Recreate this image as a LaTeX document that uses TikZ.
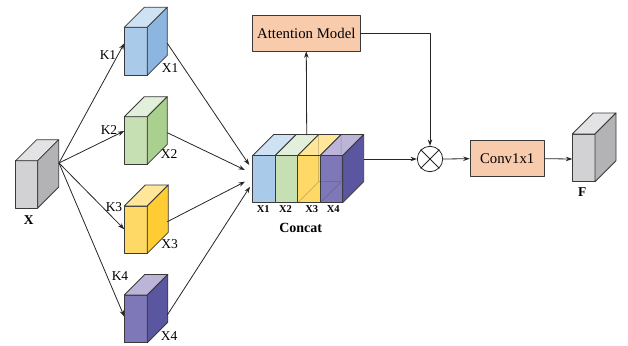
\documentclass[tikz,border=0pt]{standalone}
\usepackage{fontspec}
\setmainfont{Liberation Serif}
\usetikzlibrary{arrows.meta}
\definecolor{edge}{HTML}{3A3A3A}
\definecolor{gF}{HTML}{D2D2D4}\definecolor{gS}{HTML}{B3B3B5}\definecolor{gT}{HTML}{E3E3E5}
\definecolor{bF}{HTML}{A9CAE8}\definecolor{bS}{HTML}{8CB6DF}\definecolor{bT}{HTML}{CFE2F3}
\definecolor{nF}{HTML}{C6E0B4}\definecolor{nS}{HTML}{A9D08E}\definecolor{nT}{HTML}{E2EFDA}
\definecolor{yF}{HTML}{FFD966}\definecolor{yS}{HTML}{FFCC33}\definecolor{yT}{HTML}{FFE699}
\definecolor{pF}{HTML}{7F78B8}\definecolor{pS}{HTML}{5A56A0}\definecolor{pT}{HTML}{BDB5D8}
\definecolor{peach}{HTML}{F8CBAD}
% #1 x, #2 y (front top-left), #3 w, #4 h, #5 depth, #6 front, #7 side, #8 top
\newcommand\mycube[8]{%
  \filldraw[fill=#6,draw=edge,cubeline] (#1,#2) rectangle ({#1+#3},{#2+#4});
  \filldraw[fill=#8,draw=edge,cubeline] (#1,#2) -- ({#1+#5},{#2-#5}) -- ({#1+#3+#5},{#2-#5}) -- ({#1+#3},#2) -- cycle;
  \filldraw[fill=#7,draw=edge,cubeline] ({#1+#3},#2) -- ({#1+#3+#5},{#2-#5}) -- ({#1+#3+#5},{#2+#4-#5}) -- ({#1+#3},{#2+#4}) -- cycle;
}
% slice without side
\newcommand\myslice[7]{%
  \filldraw[fill=#6,draw=edge,cubeline] (#1,#2) rectangle ({#1+#3},{#2+#4});
  \filldraw[fill=#7,draw=edge,cubeline] (#1,#2) -- ({#1+#5},{#2-#5}) -- ({#1+#3+#5},{#2-#5}) -- ({#1+#3},#2) -- cycle;
}
\tikzset{
  cubeline/.style={line width=0.8pt},
  conn/.style={draw=black!85,line width=0.8pt},
  arr/.style={conn,-{Stealth[length=6.5pt,width=4.5pt]}},
  lab/.style={font=\fontsize{13.5}{13.5}\selectfont,inner sep=0pt},
  blab/.style={font=\fontsize{13.5}{13.5}\selectfont\bfseries,inner sep=0pt},
  slab/.style={font=\fontsize{10.5}{10.5}\selectfont\bfseries,inner sep=0pt},
  boxn/.style={draw=edge,fill=peach,line width=0.8pt,font=\fontsize{14.8}{14.8}\selectfont,inner sep=0pt},
}
\begin{document}
\begin{tikzpicture}[x=1pt,y=-1pt,line join=round]
\useasboundingbox (0,0) rectangle (628,345);
% cubes
\mycube{15.7}{160.7}{22}{47.3}{21}{gF}{gS}{gT}
\mycube{124.3}{27.3}{23}{48}{20}{bF}{bS}{bT}
\mycube{124.3}{116.7}{23}{47.6}{20}{nF}{nS}{nT}
\mycube{124.3}{206}{23}{47.3}{21}{yF}{yS}{yT}
\mycube{124.3}{295}{23}{47.7}{20.5}{pF}{pS}{pT}
\mycube{572.3}{134}{22.7}{47.7}{21}{gF}{gS}{gT}
% concat block
\myslice{252.7}{155.5}{22.5}{47.2}{21}{bF}{bT}
\myslice{275.2}{155.5}{22.5}{47.2}{21}{nF}{nT}
\myslice{297.7}{155.5}{22.5}{47.2}{21}{yF}{yT}
\mycube{320.2}{155.5}{22.5}{47.2}{21}{pF}{pS}{pT}
\draw[edge,line width=0.5pt,opacity=0.35] (318.7,134.5) -- (318.7,181.7) -- (297.7,202.7) (318.7,181.7) -- (341.2,181.7) (341.2,134.5) -- (341.2,181.7) -- (320.2,202.7);
% coordinates
\coordinate (src) at (59,163);
\coordinate (k1in) at (124.3,43.3);
\coordinate (k2in) at (124.3,131);
\coordinate (k3in) at (124.3,229.3);
\coordinate (k4in) at (124.3,316.7);
\coordinate (k1out) at (167.3,43.3);
\coordinate (k2out) at (167.3,132.7);
\coordinate (k3out) at (167.3,221.7);
\coordinate (k4out) at (167.3,315);
\coordinate (c1) at (249.3,165);
\coordinate (c2) at (245,170);
\coordinate (c3) at (245,181.7);
\coordinate (c4) at (250,186.7);
\coordinate (ctop) at (306.7,135);
\coordinate (cright) at (364,159);
\coordinate (fin) at (572.3,159);
% nodes
\node[boxn,minimum width=107.3pt,minimum height=35.3pt] (att) at (306.3,33.3) {Attention Model};
\node[draw=black!85,line width=0.8pt,circle,minimum size=25.4pt,inner sep=0pt] (mul) at (430,159) {};
\draw[black!85,line width=0.8pt] (mul.north east) -- (mul.south west) (mul.north west) -- (mul.south east);
\node[boxn,minimum width=74.3pt,minimum height=36pt] (conv) at (507.2,158.7) {Conv1x1};
% connectors
\draw[arr] (src) -- (k1in);
\draw[arr] (src) -- (k2in);
\draw[arr] (src) -- (k3in);
\draw[arr] (src) -- (k4in);
\draw[arr] (k1out) -- (c1);
\draw[arr] (k2out) -- (c2);
\draw[arr] (k3out) -- (c3);
\draw[arr] (k4out) -- (c4);
\draw[arr] (ctop) -- (att.south);
\draw[arr] (att.east) -| (mul.north);
\draw[arr] (cright) -- (mul.west);
\draw[arr] (mul.east) -- (conv.west);
\draw[arr] (conv.east) -- (fin);
% labels
\node[blab] (lx) at (28.7,220) {X};
\node[blab] (lf) at (582.3,191.7) {F};
\node[lab] (lk1) at (108,55) {K1};
\node[lab] (lk2) at (109,130) {K2};
\node[lab] (lk3) at (114,206.7) {K3};
\node[lab] (lk4) at (120,276) {K4};
\node[lab] (lx1) at (170,68.3) {X1};
\node[lab] (lx2) at (169,154) {X2};
\node[lab] (lx3) at (169.5,244) {X3};
\node[lab] (lx4) at (169,336) {X4};
\node[slab] (cx1) at (263.3,209.3) {X1};
\node[slab] (cx2) at (285.5,209.3) {X2};
\node[slab] (cx3) at (311.7,209.3) {X3};
\node[slab] (cx4) at (333.3,209.3) {X4};
\node[blab,font=\fontsize{14}{14}\selectfont\bfseries] (lconcat) at (300.7,227.7) {Concat};
\end{tikzpicture}
\end{document}
